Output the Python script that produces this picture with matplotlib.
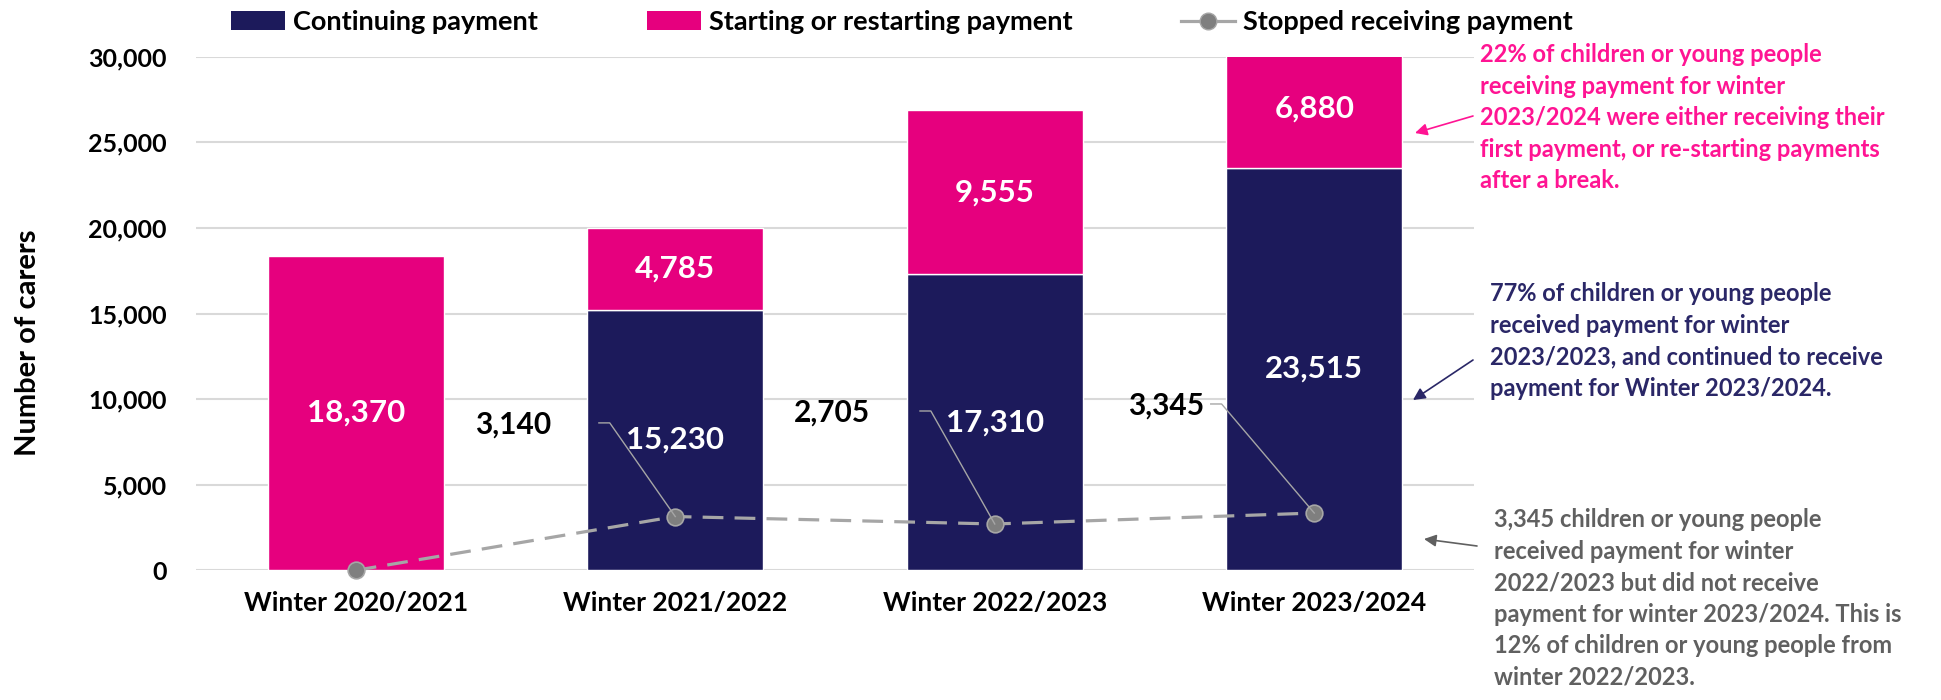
import matplotlib.pyplot as plt
from matplotlib.patches import Patch
from matplotlib.lines import Line2D

# --- Data ---
winters = ["Winter 2020/2021", "Winter 2021/2022", "Winter 2022/2023", "Winter 2023/2024"]
continuing = [0, 15230, 17310, 23515]
starting = [18370, 4785, 9555, 6880]
stopped = [0, 3140, 2705, 3345]
yticks = [0, 5000, 10000, 15000, 20000, 25000, 30000]

# --- Style ---
NAVY = "#1C1A5B"
PINK = "#E6007E"
LINE_GREY = "#A6A6A6"
MARK_GREY = "#7F7F7F"
plt.rcParams["font.family"] = ["Lato", "DejaVu Sans"]
plt.rcParams["font.weight"] = "bold"

fig = plt.figure(figsize=(19.41, 7), dpi=100)
ax = fig.add_axes([196 / 1941, 1 - 570.3 / 700, (1474 - 196) / 1941, (570.3 - 56.7) / 700])

x = list(range(len(winters)))
bw = 0.55
ax.bar(x, continuing, bw, color=NAVY, edgecolor="white", linewidth=1, zorder=2)
ax.bar(x, starting, bw, bottom=continuing, color=PINK, edgecolor="white", linewidth=1, zorder=2)

# value labels inside segments
for i in x:
    if continuing[i] > 0:
        ax.text(i, continuing[i] / 2, f"{continuing[i]:,}", ha="center", va="center",
                color="white", fontsize=22.5, fontweight="bold", zorder=4)
    if starting[i] > 0:
        ax.text(i, continuing[i] + starting[i] / 2, f"{starting[i]:,}", ha="center", va="center",
                color="white", fontsize=22.5, fontweight="bold", zorder=4)

# stopped line
ax.plot(x, stopped, color=LINE_GREY, lw=2.3, dashes=(6.5, 3.5), zorder=3,
        marker="o", markersize=12, markerfacecolor=MARK_GREY, markeredgecolor=LINE_GREY,
        markeredgewidth=1.2, clip_on=False)

# labels for stopped, with leader lines (label position offsets in data units)
lab_dx = [None, -0.507, -0.51, -0.465]
lab_dy = [None, 5350, 6480, 6250]
lead_dx = [None, -0.239, -0.234, -0.324]
for i in x:
    if stopped[i] == 0:
        continue
    lx, ly = i + lab_dx[i], stopped[i] + lab_dy[i]
    ax.text(lx, ly, f"{stopped[i]:,}", ha="center", va="center", fontsize=21.5,
            fontweight="bold", color="black", zorder=4)
    ex, ey = i + lead_dx[i], ly + 120
    ax.plot([ex, ex + 0.034, i], [ey, ey, stopped[i]], color=LINE_GREY, lw=1, zorder=3)

ax.set_xlim(-0.5, 3.5)
ax.set_ylim(0, 30000)
ax.set_yticks(yticks)
ax.set_yticklabels([f"{v:,}" for v in yticks])
ax.set_xticks(x)
ax.set_xticklabels(winters)
ax.tick_params(axis="y", length=0, pad=21, labelsize=18)
ax.tick_params(axis="x", length=0, pad=15, labelsize=19)
ax.grid(axis="y", color="#D9D9D9", lw=1.5, zorder=0)
ax.set_axisbelow(True)
for s in ax.spines.values():
    s.set_visible(False)

fig.text(28 / 1941, 1 - 343 / 700, "Number of carers", rotation=90, ha="center", va="center",
         fontsize=21, fontweight="bold")

# legend
handles = [
    Patch(facecolor=NAVY, label="Continuing payment"),
    Patch(facecolor=PINK, label="Starting or restarting payment"),
    Line2D([0], [0], color=LINE_GREY, lw=2.3, marker="o", markersize=12,
           markerfacecolor=MARK_GREY, markeredgecolor=LINE_GREY, label="Stopped receiving payment"),
]
fig.legend(handles=handles, loc="center", bbox_to_anchor=(902 / 1941, 1 - 22 / 700), ncol=3,
           frameon=False, fontsize=19.5, handlelength=2.0, handletextpad=0.3, columnspacing=4.0)

# right-hand notes
notes = [
    ("22% of children or young people\nreceiving payment for winter\n2023/2024 were either receiving their\n"
     "first payment, or re-starting payments\nafter a break.", "#FF1493", 1480, 43, (1473, 116), (1415, 133)),
    ("77% of children or young people\nreceived payment for winter\n2023/2023, and continued to receive\n"
     "payment for Winter 2023/2024.", "#2A2767", 1490, 282, (1473, 360), (1413, 400)),
    ("3,345 children or young people\nreceived payment for winter\n2022/2023 but did not receive\n"
     "payment for winter 2023/2024. This is\n12% of children or young people from\nwinter 2022/2023.",
     "#606060", 1494, 508, (1477, 546), (1424, 539)),
]
for txt, col, tx, ty, a0, a1 in notes:
    fig.text(tx / 1941, 1 - ty / 700, txt, ha="left", va="top", color=col, fontsize=17,
             fontweight="bold", linespacing=1.45)
    ax.annotate("", xy=(a1[0] / 1941, 1 - a1[1] / 700), xycoords="figure fraction",
                xytext=(a0[0] / 1941, 1 - a0[1] / 700), textcoords="figure fraction",
                arrowprops=dict(arrowstyle="-|>", color=col, lw=1.2, mutation_scale=18,
                                shrinkA=0, shrinkB=0))

fig.savefig("out.png", dpi=100)
